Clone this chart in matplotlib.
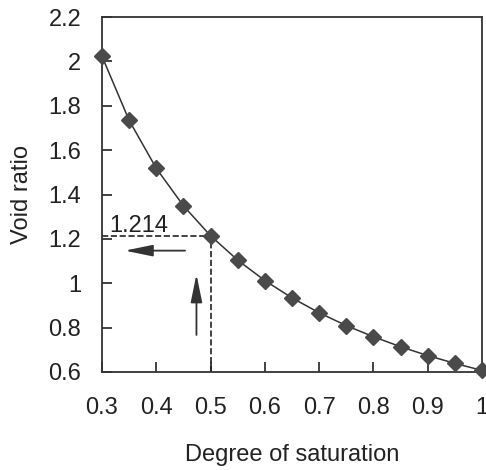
import numpy as np
import matplotlib.pyplot as plt
from matplotlib.ticker import FuncFormatter

# degree of saturation vs void ratio
saturation = [0.30, 0.35, 0.40, 0.45, 0.50, 0.55, 0.60, 0.65, 0.70, 0.75,
              0.80, 0.85, 0.90, 0.95, 1.00]
void_ratio = [2.023, 1.734, 1.518, 1.349, 1.214, 1.104, 1.012, 0.934, 0.867,
              0.809, 0.759, 0.714, 0.674, 0.639, 0.607]

s_read = 0.5
e_read = 1.214
e_label = '1.214'

plt.rcParams['font.family'] = ['Liberation Sans', 'DejaVu Sans']

fig = plt.figure(figsize=(4.86, 4.70), dpi=100)
ax = fig.add_axes([102/486, 1 - 372/470, 380/486, 355/470])

ax.plot(saturation, void_ratio, color='#333333', lw=1.1, marker='D',
        markersize=8, markerfacecolor='#4a4a4a', markeredgecolor='#4a4a4a',
        clip_on=False, zorder=3)

# read-off lines
ax.plot([0.3, s_read], [e_read, e_read], ls='--', color='#222222', lw=1.2)
ax.plot([s_read, s_read], [0.6, e_read], ls='--', color='#222222', lw=1.2)
ax.text(0.313, 1.232, e_label, fontsize=17, color='#222222')

arr = dict(arrowstyle='-|>,head_length=1.7,head_width=0.35', color='#333333',
           lw=1.3, shrinkA=0, shrinkB=0)
ax.annotate('', xy=(0.342, 1.147), xytext=(0.453, 1.147), arrowprops=arr)
ax.annotate('', xy=(0.474, 1.04), xytext=(0.474, 0.767), arrowprops=arr)

ax.set_xlim(0.3, 1.0)
ax.set_ylim(0.6, 2.2)
ax.set_xticks(np.arange(0.3, 1.01, 0.1))
ax.set_yticks(np.arange(0.6, 2.21, 0.2))
fmt = FuncFormatter(lambda v, p: '%g' % round(v, 2))
ax.xaxis.set_major_formatter(fmt)
ax.yaxis.set_major_formatter(fmt)
ax.tick_params(direction='in', length=7, width=1.2, labelsize=17,
               colors='#222222')
ax.tick_params(axis='x', pad=18)
ax.tick_params(axis='y', pad=15)
for sp in ax.spines.values():
    sp.set_linewidth(1.3)
    sp.set_color('#333333')

ax.set_xlabel('Degree of saturation', fontsize=17, color='#222222', labelpad=18)
ax.set_ylabel('Void ratio', fontsize=17, color='#222222', labelpad=11)

fig.savefig('out.png', dpi=100)
